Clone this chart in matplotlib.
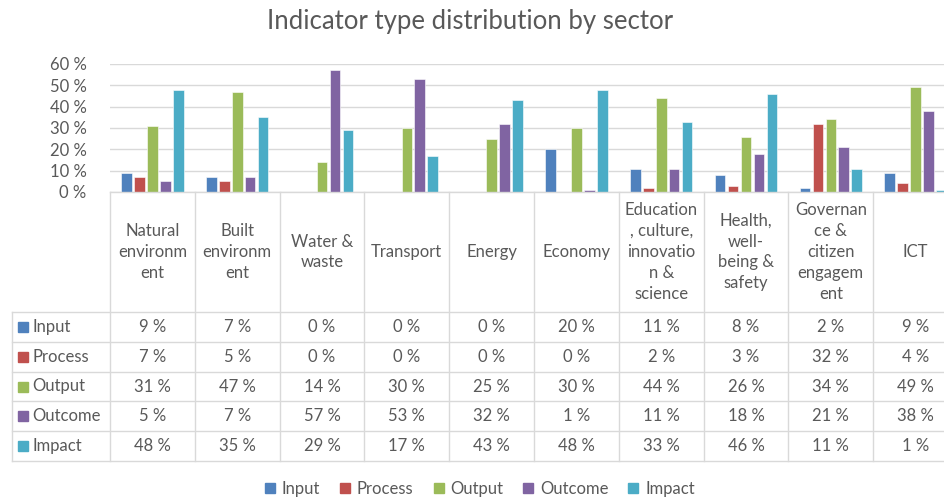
import numpy as np
import matplotlib.pyplot as plt
from matplotlib.patches import Patch, Rectangle

plt.rcParams['font.family'] = ['Lato', 'DejaVu Sans']

# ---- data ----
sectors = ["Natural\nenvironm\nent", "Built\nenvironm\nent", "Water &\nwaste", "Transport",
           "Energy", "Economy", "Education\n, culture,\ninnovatio\nn &\nscience",
           "Health,\nwell-\nbeing &\nsafety", "Governan\nce &\ncitizen\nengagem\nent", "ICT"]
series = ["Input", "Process", "Output", "Outcome", "Impact"]
input_vals = [9, 7, 0, 0, 0, 20, 11, 8, 2, 9]
process_vals = [7, 5, 0, 0, 0, 0, 2, 3, 32, 4]
output_vals = [31, 47, 14, 30, 25, 30, 44, 26, 34, 49]
outcome_vals = [5, 7, 57, 53, 32, 1, 11, 18, 21, 38]
impact_vals = [48, 35, 29, 17, 43, 48, 33, 46, 11, 1]
colors = ["#4F81BD", "#C0504D", "#9BBB59", "#8064A2", "#4BACC6"]
yticks = [0, 10, 20, 30, 40, 50, 60]

values = [input_vals, process_vals, output_vals, outcome_vals, impact_vals]
txt = "#595959"
grid = "#D9D9D9"
fs = 12

W, H = 945, 499
fig = plt.figure(figsize=(W / 100, H / 100), dpi=100)

# layout in pixels
x0 = 110.0       # left edge of first category column
colw = 84.8      # width of a category column
lab_x0 = 12.0    # left edge of row-label column
y_zero = 192.0   # pixel row of 0 %
y_top = 64.0     # pixel row of 60 %
hdr_bot = 312.0
row_h = 29.8
n = len(sectors)

# ---- bar chart ----
ax = fig.add_axes([x0 / W, 1 - y_zero / H, n * colw / W, (y_zero - y_top) / H])
idx = np.arange(n)
step = 0.153
bw = 0.125
for k, (name, vals) in enumerate(zip(series, values)):
    ax.bar(idx + 0.5 + (k - 2) * step, vals, width=bw, color=colors[k],
           edgecolor="white", linewidth=0.4, zorder=3)
ax.set_xlim(0, n)
ax.set_ylim(0, 60)
ax.set_yticks(yticks)
ax.set_yticklabels([f"{v} %" for v in yticks], color=txt, fontsize=fs)
ax.tick_params(axis="y", length=0, pad=17)
ax.set_xticks([])
ax.grid(axis="y", color=grid, linewidth=1, zorder=0)
for s in ax.spines.values():
    s.set_visible(False)

# ---- table (pixel coordinates overlay) ----
tb = fig.add_axes([0, 0, 1, 1], facecolor="none")
tb.set_xlim(0, W)
tb.set_ylim(H, 0)
tb.axis("off")

edges = [x0 + i * colw for i in range(n + 1)]
bottom = hdr_bot + row_h * len(series)
lc = "#D9D9D9"
# header verticals
for e in edges:
    tb.plot([e, e], [y_zero, bottom], color=lc, lw=1)
tb.plot([lab_x0, lab_x0], [hdr_bot, bottom], color=lc, lw=1)
tb.plot([x0, edges[-1]], [y_zero, y_zero], color=lc, lw=1)
for r in range(len(series) + 1):
    yy = hdr_bot + r * row_h
    tb.plot([lab_x0, edges[-1]], [yy, yy], color=lc, lw=1)

for i, name in enumerate(sectors):
    tb.text(x0 + (i + 0.5) * colw, (y_zero + hdr_bot) / 2, name, ha="center",
            va="center", color=txt, fontsize=fs, linespacing=1.38)

for r, (name, vals) in enumerate(zip(series, values)):
    yc = hdr_bot + (r + 0.5) * row_h
    tb.add_patch(Rectangle((18, yc - 5), 10, 10, color=colors[r]))
    tb.text(32, yc, name, ha="left", va="center", color=txt, fontsize=fs)
    for i, v in enumerate(vals):
        tb.text(x0 + (i + 0.5) * colw, yc, f"{v} %", ha="center", va="center",
                color=txt, fontsize=fs)

# ---- title and legend ----
fig.text(470 / W, 1 - 22 / H, "Indicator type distribution by sector", ha="center",
         va="center", color=txt, fontsize=18.5)
handles = [Patch(color=c, label=s) for c, s in zip(colors, series)]
fig.legend(handles=handles, loc="center", bbox_to_anchor=(480 / W, 1 - 489 / H), ncol=5,
           frameon=False, fontsize=fs, handlelength=0.6, handleheight=0.6,
           handletextpad=0.4, columnspacing=1.2, labelcolor=txt)

fig.savefig("out.png", dpi=100)
